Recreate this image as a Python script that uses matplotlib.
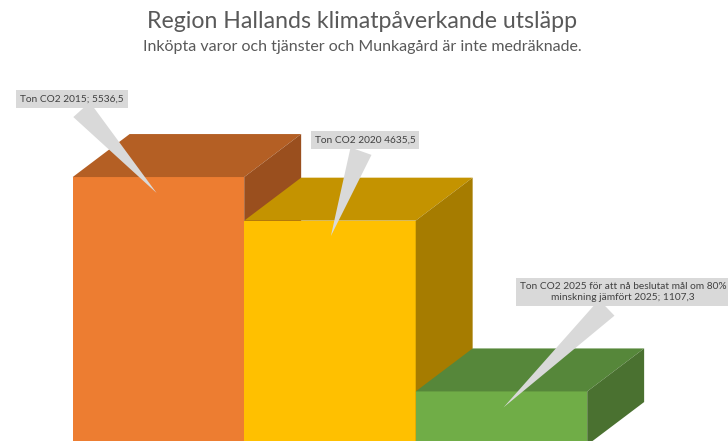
import matplotlib
matplotlib.use("Agg")
import matplotlib.pyplot as plt
from matplotlib.patches import Polygon
from matplotlib.transforms import offset_copy

plt.rcParams["font.family"] = ["Lato", "DejaVu Sans"]

years = ["2015", "2020", "2025"]
values = [5536.5, 4635.5, 1107.3]
labels = [
    "Ton CO2 2015; 5536,5",
    "Ton CO2 2020 4635,5",
    "Ton CO2 2025 för att nå beslutat mål om 80%\nminskning jämfört 2025; 1107,3",
]
front_colors = ["#ED7D31", "#FFC000", "#70AD47"]
top_colors = ["#B45F24", "#C49300", "#56873A"]
side_colors = ["#9A4F1E", "#A67C00", "#4A7130"]

# where the gray boxes sit (figure pixels, from bottom-left)
label_pos = [(72, 342), (365, 301), (623, 149)]

fig = plt.figure(figsize=(7.28, 4.41), dpi=100)
ax = fig.add_axes([0, 0, 1, 1])
ax.set_xlim(-0.924, 3.321)
ax.set_ylim(83, 9194)
ax.axis("off")

width = 1.0
dx = 0.332   # depth of the 3d box, x data units
dy = 888     # depth, y data units

for i, v in enumerate(values):
    x0 = i - width / 2
    x1 = i + width / 2
    ax.bar(i, v, width=width, color=front_colors[i], linewidth=0, zorder=3 * i + 1)
    top = Polygon([(x0, v), (x1, v), (x1 + dx, v + dy), (x0 + dx, v + dy)],
                  closed=True, facecolor=top_colors[i], edgecolor="none", zorder=3 * i + 1)
    side = Polygon([(x1, 0), (x1, v), (x1 + dx, v + dy), (x1 + dx, dy)],
                   closed=True, facecolor=side_colors[i], edgecolor="none", zorder=3 * i + 1)
    ax.add_patch(top)
    ax.add_patch(side)

tip_trans = offset_copy(ax.transData, fig=fig, x=0, y=-18, units="dots")
for i, v in enumerate(values):
    ax.annotate(
        labels[i], xy=(i, v), xycoords=tip_trans,
        xytext=label_pos[i], textcoords="figure pixels",
        ha="center", va="center", fontsize=7.3, color="#404040",
        multialignment="center", zorder=20,
        bbox=dict(boxstyle="square,pad=0.4", fc="#D9D9D9", ec="none"),
        arrowprops=dict(arrowstyle="wedge,tail_width=1.0", mutation_scale=16,
                        fc="#D9D9D9", ec="none"),
    )

fig.text(0.497, 1 - 22 / 441, "Region Hallands klimatpåverkande utsläpp",
         ha="center", va="center", fontsize=16.7, color="#595959")
fig.text(0.497, 1 - 47 / 441, "Inköpta varor och tjänster och Munkagård är inte medräknade.",
         ha="center", va="center", fontsize=11.5, color="#595959")

fig.savefig("out.png", dpi=100)
